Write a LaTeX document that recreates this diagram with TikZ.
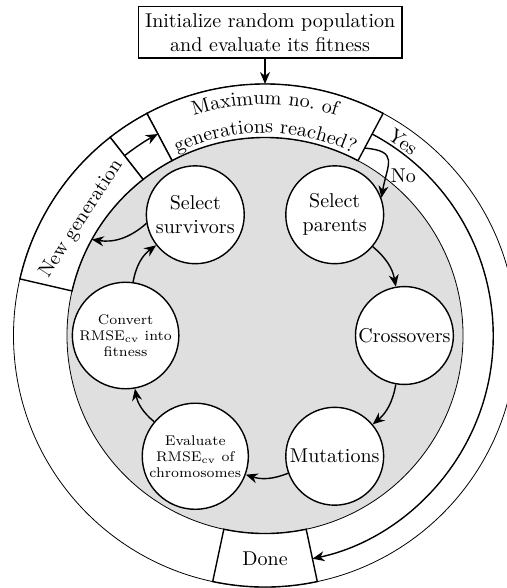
\documentclass[tikz,border=0pt]{standalone}
\usepackage{tikz}
\usetikzlibrary{arrows.meta,calc,decorations.text,positioning}

\begin{document}
\begin{tikzpicture}[
  >={Stealth[length=6pt,width=5pt]},
  stage/.style={circle,draw,line width=0.7pt,fill=white,minimum size=1.72cm,inner sep=1pt,align=center},
  flow/.style={->,line width=0.7pt},
  sector/.style={line width=0.7pt,fill=white}
]
\useasboundingbox (-4.657,-4.437) rectangle (4.235,5.896);
\coordinate (O) at (0,0);
% grey disc and outer ring
\fill[gray!25] (O) circle (3.48);
\draw[line width=0.4pt] (O) circle (3.48);
\draw[line width=0.4pt] (O) circle (4.42);
% boxes cut out of the ring
\foreach \a/\b in {62/118,118/128,128/167,-102/-78}
  \draw[sector] (\a:3.48) arc (\a:\b:3.48) -- (\b:4.42) arc (\b:\a:4.42) -- cycle;
% end points on the ring
\coordinate (ringtop) at (90:4.42);
\coordinate (yesstart) at (62:4.01);
\coordinate (nostart) at (62:3.73);
\coordinate (genout) at (128:4.01);
\coordinate (genin) at (151:3.48);

\node[draw,line width=0.7pt,align=center] (init) at (0.09,5.33) {Initialize random population\\and evaluate its fitness};
\draw[flow] (init.south -| O) -- (ringtop);

\path[decorate,decoration={text along path,text align=center,text={Maximum no. of}}] (118:4.06) arc (118:62:4.06);
\path[decorate,decoration={text along path,text align=center,text={generations reached?}}] (118:3.56) arc (118:62:3.56);

\node[rotate=57,inner sep=1pt] (newgen) at (147.6:3.82) {New generation};
\node (done) at (-90:3.93) {Done};

% the loop of one generation
\node[stage] (parents) at (60:2.45) {Select\\parents};
\node[stage] (crossover) at (0:2.45) {Crossovers};
\node[stage] (mutation) at (-60:2.45) {Mutations};
\node[stage,font=\scriptsize] (evaluate) at (-120:2.45) {Evaluate\\RMSE$_{\mathrm{cv}}$ of\\chromosomes};
\node[stage,font=\scriptsize] (convert) at (180:2.45) {Convert\\RMSE$_{\mathrm{cv}}$ into\\fitness};
\node[stage] (survivors) at (120:2.45) {Select\\survivors};

\draw[flow] (parents) to[bend left=20] (crossover);
\draw[flow] (crossover) to[bend left=20] (mutation);
\draw[flow] (mutation) to[bend left=20] (evaluate);
\draw[flow] (evaluate) to[bend left=20] (convert);
\draw[flow] (convert) to[bend left=22] (survivors);
\draw[flow] (survivors.190) to[bend left=25] (genin);
\draw[flow] (genout) arc (128:118:4.01);

% exit of the loop
\draw[flow] (nostart) to[out=-5,in=80,looseness=1.7] node[pos=0.75,right,inner sep=1pt,xshift=1pt] (no) {No} (parents.20);
\draw[flow] (yesstart) arc (62:-78:4.01);
\node[rotate=-35.5,inner sep=1pt] (yes) at (54.5:4.18) {Yes};
\end{tikzpicture}
\end{document}
